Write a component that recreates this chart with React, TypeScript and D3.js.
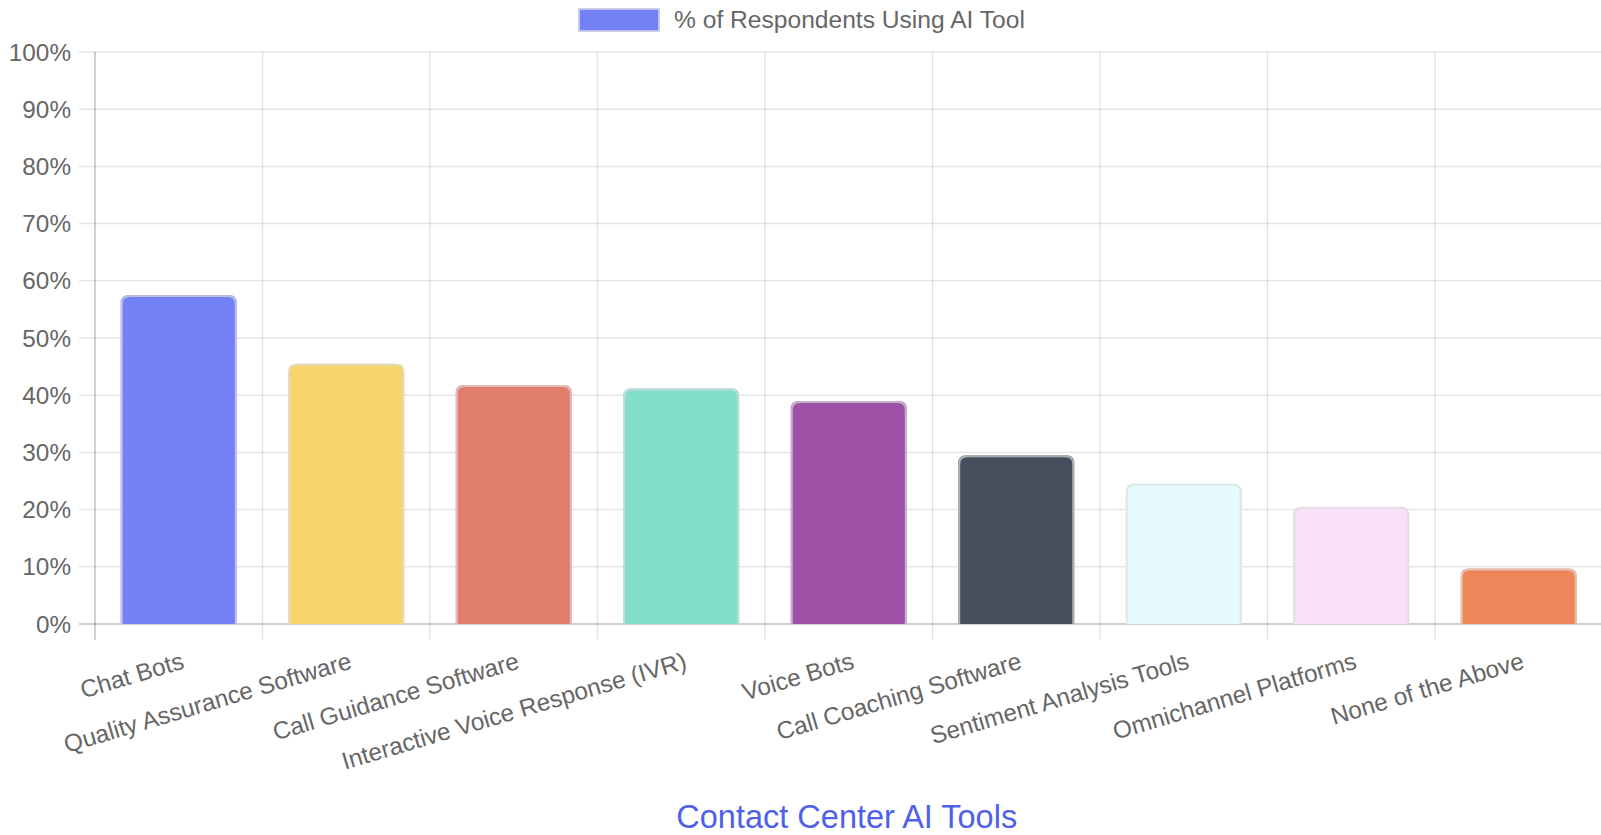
import React from "react";
import * as d3 from "d3";

const categories = [
  "Chat Bots",
  "Quality Assurance Software",
  "Call Guidance Software",
  "Interactive Voice Response (IVR)",
  "Voice Bots",
  "Call Coaching Software",
  "Sentiment Analysis Tools",
  "Omnichannel Platforms",
  "None of the Above",
];
const values = [57.5, 45.5, 41.8, 41.2, 39.0, 29.5, 24.5, 20.5, 9.7];
const barColors = [
  "#7480f6",
  "#f6d56b",
  "#e07d6c",
  "#82ddcb",
  "#9f51a7",
  "#474f5f",
  "#e6fbfb",
  "#f7e0f8",
  "#ef8659",
];
const yTicks = [0, 10, 20, 30, 40, 50, 60, 70, 80, 90, 100];
const seriesLabel = "% of Respondents Using AI Tool";
const axisTitle = "Contact Center AI Tools";

const W = 1601;
const H = 835;
const FONT = '"Liberation Sans", Arial, Helvetica, sans-serif';

export default function App() {
  const left = 95;
  const right = 1602.5;
  const top = 52;
  const bottom = 624;
  const x = d3.scaleBand<string>().domain(categories).range([left, right]).paddingInner(0).paddingOuter(0);
  const y = d3.scaleLinear().domain([0, 100]).range([bottom, top]);
  const bw = x.bandwidth();
  const barW = bw * 0.693;
  const r = 8;
  const rot = 16.5;
  const rad = (rot * Math.PI) / 180;
  const fs = 24.3;
  const lh = fs * 1.2;

  const barPath = (x0: number, x1: number, y0: number, y1: number) => {
    const p = d3.path();
    const rr = Math.min(r, (y0 - y1) / 2, (x1 - x0) / 2);
    p.moveTo(x0, y0);
    p.lineTo(x0, y1 + rr);
    p.quadraticCurveTo(x0, y1, x0 + rr, y1);
    p.lineTo(x1 - rr, y1);
    p.quadraticCurveTo(x1, y1, x1, y1 + rr);
    p.lineTo(x1, y0);
    return p.toString();
  };

  return (
    <svg
      width={W}
      height={H}
      style={{ position: "absolute", left: 0, top: 0, display: "block", background: "#fff" }}
      fontFamily={FONT}
    >
      {/* horizontal grid */}
      {yTicks.map((t) => (
        <line
          key={"h" + t}
          x1={left - 16}
          x2={W}
          y1={y(t)}
          y2={y(t)}
          stroke={t === 0 ? "rgba(0,0,0,0.25)" : "rgba(0,0,0,0.1)"}
          strokeWidth={1.5}
        />
      ))}
      {/* vertical grid */}
      {categories.map((c, i) => {
        const gx = x(c) as number;
        return (
          <line
            key={"v" + i}
            x1={gx}
            x2={gx}
            y1={top}
            y2={bottom + 16}
            stroke={i === 0 ? "rgba(0,0,0,0.25)" : "rgba(0,0,0,0.1)"}
            strokeWidth={1.5}
          />
        );
      })}
      {/* y tick labels */}
      {yTicks.map((t) => (
        <text
          key={"yl" + t}
          x={71}
          y={y(t)}
          textAnchor="end"
          dominantBaseline="central"
          fontSize={fs}
          fill="#666"
        >
          {t + "%"}
        </text>
      ))}
      {/* bars */}
      {categories.map((c, i) => {
        const cx = (x(c) as number) + bw / 2;
        const x0 = cx - barW / 2;
        const x1 = cx + barW / 2;
        return (
          <g key={"b" + i}>
            <path d={barPath(x0, x1, y(0), y(values[i])) + "Z"} fill={barColors[i]} stroke="none" />
            <path
              d={barPath(x0 + 1, x1 - 1, y(0), y(values[i]) + 1)}
              fill="none"
              stroke="rgba(220,220,220,0.7)"
              strokeWidth={2}
            />
          </g>
        );
      })}
      {/* x tick labels */}
      {categories.map((c, i) => {
        const cx = (x(c) as number) + bw / 2 + (lh / 2) * Math.sin(rad) - 4;
        const ay = 646;
        return (
          <g key={"xl" + i} transform={`translate(${cx},${ay}) rotate(${-rot})`}>
            <text x={0} y={lh / 2} textAnchor="end" dominantBaseline="central" fontSize={fs} fill="#666">
              {c}
            </text>
          </g>
        );
      })}
      {/* legend */}
      <rect x={579} y={9} width={80} height={22} fill={barColors[0]} stroke="rgba(200,200,230,0.9)" strokeWidth={2} />
      <text x={674} y={19.5} dominantBaseline="central" fontSize={24.6} fill="#666">
        {seriesLabel}
      </text>
      {/* axis title */}
      <text x={(left + right) / 2 - 2} y={817} textAnchor="middle" dominantBaseline="central" fontSize={32.5} fill="#4f5fea">
        {axisTitle}
      </text>
    </svg>
  );
}
